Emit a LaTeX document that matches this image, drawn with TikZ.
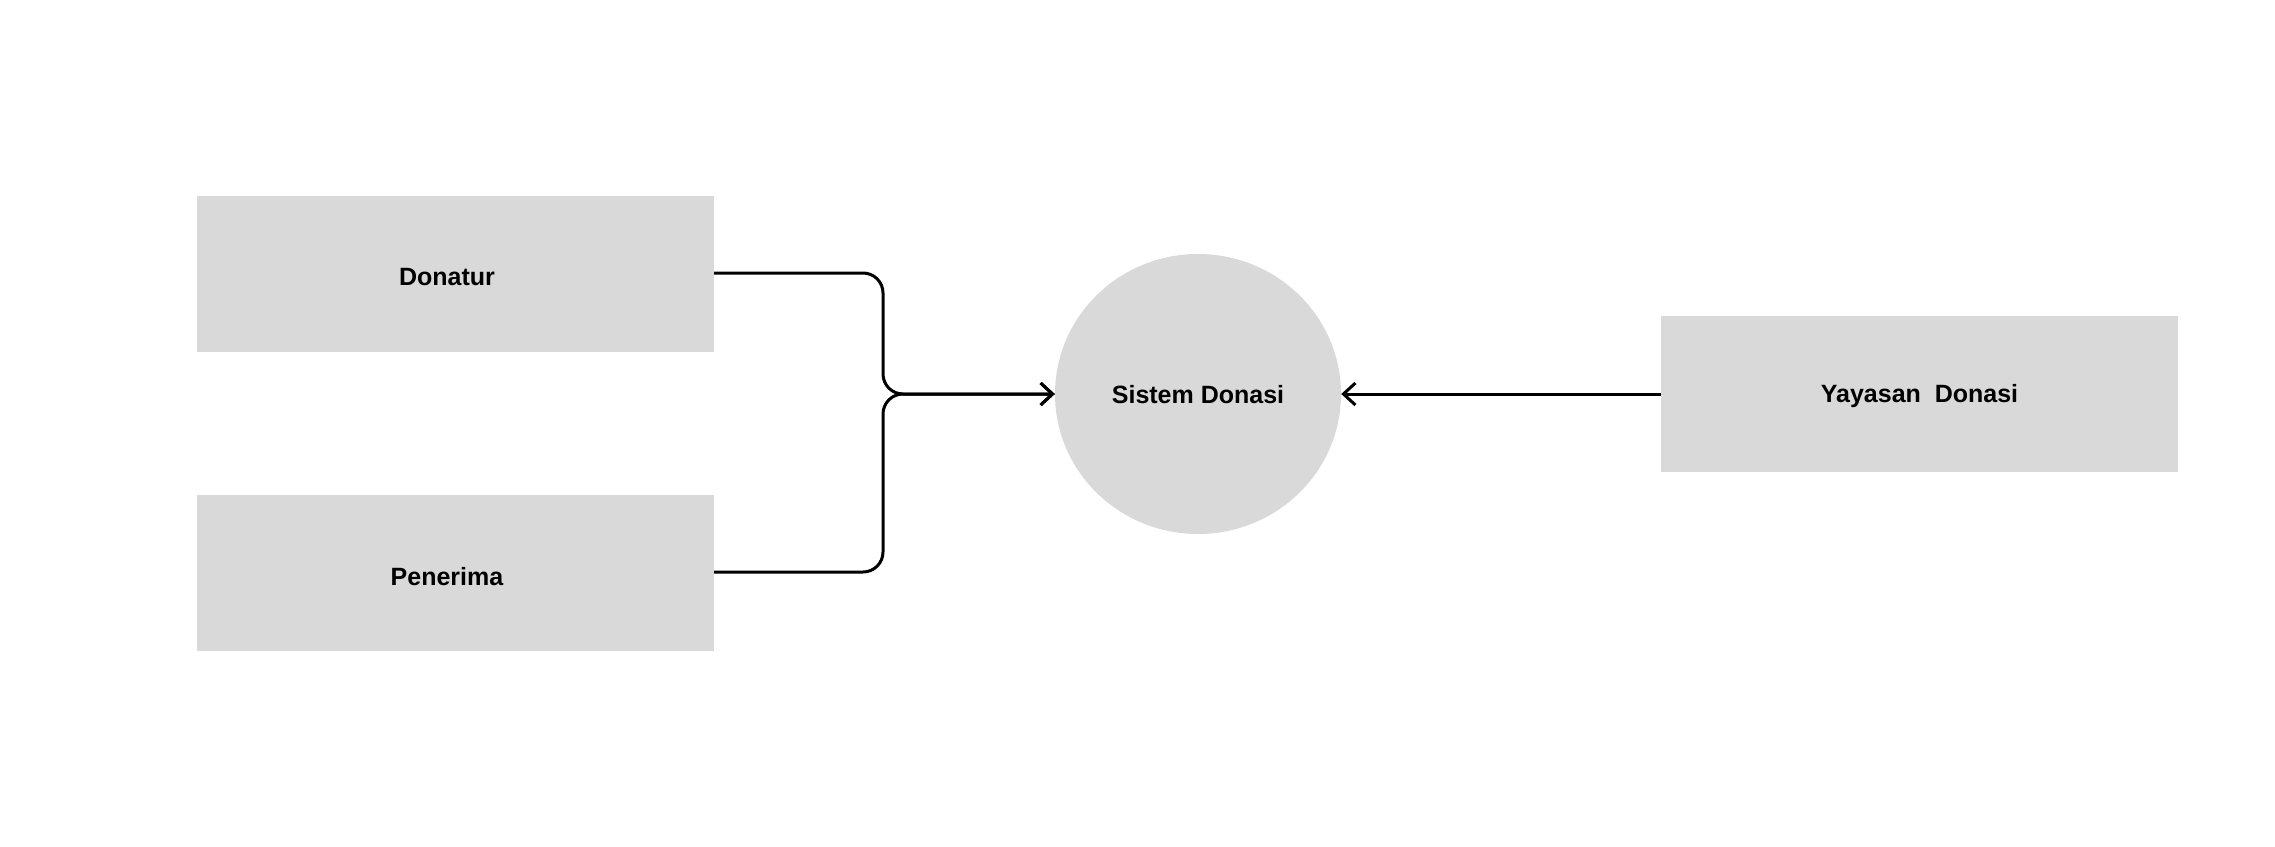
\documentclass[tikz,border=0pt]{standalone}
\usepackage{fontspec}
\setmainfont{Liberation Sans}
\usetikzlibrary{arrows.meta,shapes.geometric}
\definecolor{boxgray}{HTML}{D9D9D9}
\newcommand{\lowered}[2]{\raisebox{-#1}[\height][\depth]{#2}}
\begin{document}
\begin{tikzpicture}[x=1pt,y=-1pt,
  entity/.style={fill=boxgray,draw=none,minimum width=517pt,minimum height=156pt,inner sep=0pt,font=\fontsize{25}{30}\selectfont\bfseries},
  proc/.style={ellipse,fill=boxgray,draw=none,minimum width=286pt,minimum height=280pt,inner sep=0pt,font=\fontsize{25}{30}\selectfont\bfseries},
  flow/.style={line width=3pt,-{Straight Barb[length=12pt,width=22pt,line width=3pt]},rounded corners=20pt}]
\useasboundingbox (0,0) rectangle (2275,846);
\node[entity] (don) at (455.5,274) {\lowered{3pt}{Donatur}\kern17pt};
\node[entity] (pen) at (455.5,572.5) {\lowered{4pt}{Penerima}\kern17pt};
\node[proc] (sys) at (1198,394) {\lowered{1pt}{Sistem Donasi}};
\node[entity] (yay) at (1919.5,394) {\lowered{2pt}{Yayasan\ \ Donasi}};
\coordinate (j1) at (883,273);
\coordinate (j2) at (883,572);
\coordinate (jm) at (883,394);
\draw[flow] (don.east |- j1) -- (j1) -- (jm) -- (sys.west);
\draw[flow] (pen.east |- j2) -- (j2) -- (jm) -- (sys.west);
\draw[flow] (yay.west) -- (sys.east);
\end{tikzpicture}
\end{document}
